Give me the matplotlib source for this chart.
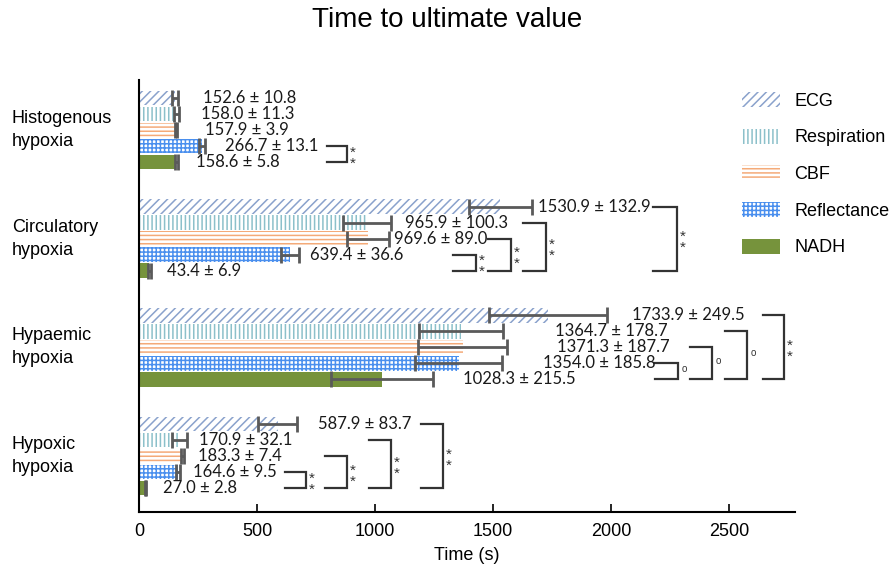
import numpy as np
import matplotlib
matplotlib.use("Agg")
import matplotlib.pyplot as plt
from matplotlib.transforms import blended_transform_factory

plt.rcParams['font.family'] = ['Liberation Sans', 'DejaVu Sans']
plt.rcParams['hatch.linewidth'] = 1.1

# data
groups = ["Histogenous\nhypoxia", "Circulatory\nhypoxia", "Hypaemic\nhypoxia", "Hypoxic\nhypoxia"]
series = ["ECG", "Respiration", "CBF", "Reflectance", "NADH"]
means = [
    [152.6, 158.0, 157.9, 266.7, 158.6],
    [1530.9, 965.9, 969.6, 639.4, 43.4],
    [1733.9, 1364.7, 1371.3, 1354.0, 1028.3],
    [587.9, 170.9, 183.3, 164.6, 27.0],
]
errs = [
    [10.8, 11.3, 3.9, 13.1, 5.8],
    [132.9, 100.3, 89.0, 36.6, 6.9],
    [249.5, 178.7, 187.7, 185.8, 215.5],
    [83.7, 32.1, 7.4, 9.5, 2.8],
]
# where the "mean ± sd" text starts (x, in seconds)
label_x = [
    [271, 263, 280, 364, 242],
    [1690, 1127, 1080, 725, 119],
    [2089, 1763, 1771, 1712, 1373],
    [758, 254, 250, 229, 102],
]
# significance brackets: (group, series compared with NADH, x left, x right, mark)
brackets = [
    (0, 3, 797, 881, "**"),
    (1, 3, 1331, 1428, "**"), (1, 2, 1479, 1576, "**"),
    (1, 1, 1627, 1725, "**"), (1, 0, 2178, 2280, "**"),
    (2, 3, 2186, 2284, "o"), (2, 2, 2335, 2428, "o"),
    (2, 1, 2483, 2576, "o"), (2, 0, 2644, 2733, "**"),
    (3, 3, 619, 708, "**"), (3, 2, 788, 881, "**"),
    (3, 1, 975, 1068, "**"), (3, 0, 1195, 1288, "**"),
]

colors = ["#8AA2CC", "#8CC0CA", "#F4AA78", "#4A8FEE", "#76933C"]
hatches = ["////", "||||", "----", "++++", None]

fig = plt.figure(figsize=(8.95, 5.69), dpi=100)
ax = fig.add_axes([139/895, 1-512/569, (795-139)/895, (512-80)/569])

gap = 6.8
for i, s in enumerate(series):
    pos = np.arange(len(groups)) * gap + i
    vals = [m[i] for m in means]
    ee = [e[i] for e in errs]
    if hatches[i]:
        ax.barh(pos, vals, height=0.92, color="white", edgecolor=colors[i],
                hatch=hatches[i], linewidth=0, label=s)
    else:
        ax.barh(pos, vals, height=0.92, color=colors[i], linewidth=0, label=s)
    ax.errorbar(vals, pos, xerr=ee, fmt="none", ecolor="#5a5a5a",
                elinewidth=2, capsize=5.5, capthick=2)
    for g in range(len(groups)):
        ax.text(label_x[g][i], pos[g], "%.1f \u00b1 %.1f" % (means[g][i], errs[g][i]),
                va="center", ha="left", fontsize=12, family=["Lato", "DejaVu Sans"],
                color="#1a1a1a")

for g, i, x0, x1, mark in brackets:
    ytop = g * gap + i
    ybot = g * gap + 4
    ax.plot([x0, x1, x1, x0], [ytop, ytop, ybot, ybot], color="#333333",
            lw=1.6, solid_joinstyle="miter")
    if mark == "**":
        ax.text(x1 + 12, (ytop + ybot) / 2 + 0.25, "*\n*", fontsize=11, va="center",
                ha="left", linespacing=0.75, color="#333333")
    else:
        ax.text(x1 + 15, (ytop + ybot) / 2 - 0.15, "o", fontsize=7, va="center",
                ha="left", color="#333333")

ax.set_xlim(0, 2780)
ax.set_ylim(3 * gap + 4 + 1.5, -1.125)
ax.set_yticks([])
ax.set_xticks([0, 500, 1000, 1500, 2000, 2500])
ax.tick_params(axis="x", direction="in", length=6, width=1.2, labelsize=13, pad=8)
for sp in ["top", "right"]:
    ax.spines[sp].set_visible(False)
for sp in ["left", "bottom"]:
    ax.spines[sp].set_linewidth(1.5)
ax.set_xlabel("Time (s)", fontsize=13, labelpad=5)

tr = blended_transform_factory(fig.transFigure, ax.transData)
for g, name in enumerate(groups):
    fig.text(12/895, g * gap + 2, name, transform=tr, ha="left", va="center",
             fontsize=13, linespacing=1.45)

fig.text(0.5, 1 - 20/569, "Time to ultimate value", ha="center", va="center",
         fontsize=20)

ax.legend(loc="upper left", bbox_to_anchor=(742/895, 1 - 92/569),
          bbox_transform=fig.transFigure, frameon=False, fontsize=13,
          borderpad=0, borderaxespad=0, handlelength=2.1, handleheight=0.9,
          handletextpad=0.8, labelspacing=1.05)

fig.savefig("out.png", dpi=100)
